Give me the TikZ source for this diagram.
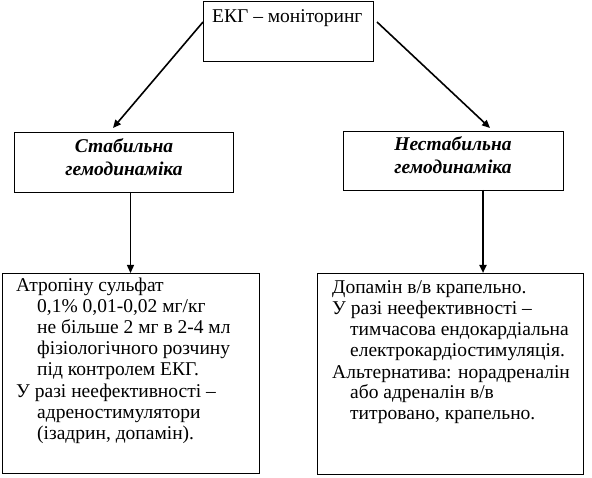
\documentclass[tikz,border=0pt]{standalone}
\usepackage{fontspec}
\setmainfont{Liberation Serif}
\usetikzlibrary{arrows.meta}
\begin{document}
\begin{tikzpicture}[x=1pt,y=-1pt,
  box/.style={draw,line width=0.8pt,inner sep=0pt,outer sep=0pt,anchor=north west},
  txt/.style={inner sep=0pt,anchor=base west,font=\fontsize{19.5}{21}\selectfont},
  head/.style={inner sep=0pt,anchor=base,font=\fontsize{19.5}{21}\selectfont\bfseries\itshape},
  arr/.style={-{Triangle[length=8pt,width=7pt]},line width=1.6pt},
  varr/.style={-{Triangle[length=8pt,width=7pt]},line width=1.3pt}]
\useasboundingbox (0,0) rectangle (592,478);
\fill[white] (0,0) rectangle (592,478);

% boxes
\node[box,minimum width=170pt,minimum height=60pt] (top) at (203,1) {};
\node[box,minimum width=219pt,minimum height=60pt] (stab) at (14,132) {};
\node[box,minimum width=220pt,minimum height=59pt] (nstab) at (343,131) {};
\node[box,minimum width=257pt,minimum height=200pt] (lbox) at (2,273) {};
\node[box,minimum width=266pt,minimum height=201pt] (rbox) at (317,273) {};

% texts
\node[txt] (t0) at (212,23) {ЕКГ – моніторинг};
\node[head] (s1) at (124,153) {Стабильна};
\node[head] (s2) at (124,176) {гемодинаміка};
\node[head] (n1) at (453,151) {Нестабильна};
\node[head] (n2) at (453,174) {гемодинаміка};

\node[txt] (l1) at (16,292) {Атропіну сульфат};
\node[txt] (l2) at (37,313) {0,1\% 0,01-0,02 мг/кг};
\node[txt] (l3) at (37,334) {не більше 2 мг в 2-4 мл};
\node[txt] (l4) at (37,355) {фізіологічного розчину};
\node[txt] (l5) at (37,376) {під контролем ЕКГ.};
\node[txt] (l6) at (16,397) {У разі неефективності –};
\node[txt] (l7) at (37,418) {адреностимулятори};
\node[txt] (l8) at (37,439) {(ізадрин, допамін).};

\node[txt] (r1) at (332,294) {Допамін в/в крапельно.};
\node[txt] (r2) at (332,315) {У разі неефективності –};
\node[txt] (r3) at (350,336) {тимчасова ендокардіальна};
\node[txt] (r4) at (350,357) {електрокардіостимуляція.};
\node[txt] (r5) at (332,378) {Альтернатива: норадреналін};
\node[txt] (r6) at (350,399) {або адреналін в/в};
\node[txt] (r7) at (350,420) {титровано, крапельно.};

% arrow end points
\coordinate (ta) at (203,22);
\coordinate (tb) at (377,22);
\coordinate (ea) at (113,128);
\coordinate (eb) at (490,128);

\draw[arr] (ta) -- (ea);
\draw[arr] (tb) -- (eb);
\draw[varr] (stab.south -| lbox.north) -- (lbox.north);
\draw[varr,line width=2.2pt] (483,190) coordinate (ns) -- (ns |- rbox.north);
\end{tikzpicture}
\end{document}
